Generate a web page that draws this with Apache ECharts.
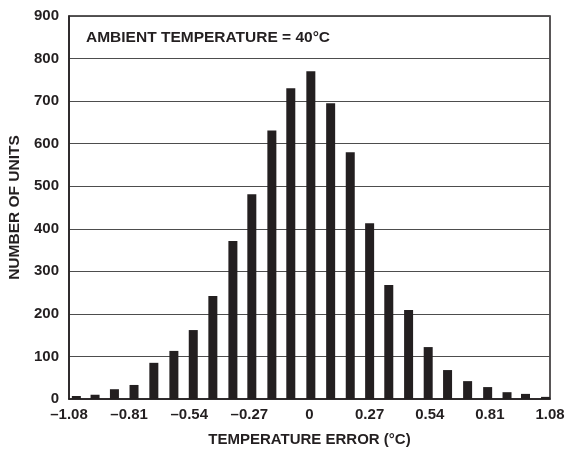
<!DOCTYPE html>
<html>
<head>
<meta charset="utf-8">
<script src="https://cdn.jsdelivr.net/npm/echarts@6/dist/echarts.min.js"></script>
<style>
html,body{margin:0;padding:0;background:#fff;}
#c{width:570px;height:449px;}
</style>
</head>
<body>
<div id="c"></div>
<script>
// Bin centres (°C)
var binCenters = [-1.047, -0.963, -0.876, -0.788, -0.699, -0.609, -0.522, -0.434, -0.344, -0.259, -0.169, -0.084, 0.006,
                  0.095, 0.183, 0.270, 0.356, 0.445, 0.533, 0.620, 0.710, 0.800, 0.887, 0.970, 1.060];
// Number of units per bin
var units = [7, 10, 23, 33, 85, 113, 162, 242, 371, 481, 631, 730, 770,
             695, 580, 413, 268, 209, 122, 68, 42, 28, 16, 12, 5];
var xTicks = [-1.08, -0.81, -0.54, -0.27, 0, 0.27, 0.54, 0.81, 1.08];
var titleText = 'AMBIENT TEMPERATURE = 40°C';
var xName = 'TEMPERATURE ERROR (°C)';
var yName = 'NUMBER OF UNITS';

var chart = echarts.init(document.getElementById('c'), null, {renderer: 'canvas'});
var font = 'Liberation Sans, Arial, Helvetica, sans-serif';
var data = binCenters.map(function (x, i) { return [x, units[i]]; });

chart.setOption({
  backgroundColor: '#fff',
  animation: false,
  textStyle: {fontFamily: font},
  grid: {left: 69, right: 20, top: 16, bottom: 50, containLabel: false, outerBoundsMode: 'none',
         show: true, borderColor: '#231f20', borderWidth: 1.5, backgroundColor: 'transparent'},
  graphic: [{
    type: 'text', left: 86, top: 30,
    style: {text: titleText, fill: '#231f20', font: 'bold 15.5px ' + font}
  }],
  xAxis: {
    type: 'value', min: -1.08, max: 1.08, interval: 0.27,
    name: xName, nameLocation: 'middle', nameGap: 33,
    nameTextStyle: {color: '#231f20', fontWeight: 'bold', fontSize: 15, fontFamily: font},
    axisLine: {show: true, onZero: false, lineStyle: {color: '#231f20', width: 1.5}},
    axisTick: {show: false},
    splitLine: {show: false},
    axisLabel: {
      color: '#231f20', fontWeight: 'bold', fontSize: 15, margin: 8, fontFamily: font,
      customValues: xTicks,
      formatter: function (v) {
        var r = Math.round(v * 100) / 100;
        if (r === 0) return '0';
        var s = Math.abs(r).toFixed(2);
        return (r < 0 ? '\u2013' : '') + s;
      }
    }
  },
  yAxis: {
    type: 'value', min: 0, max: 900, interval: 100,
    name: yName, nameLocation: 'middle', nameGap: 43, nameRotate: 90,
    nameTextStyle: {color: '#231f20', fontWeight: 'bold', fontSize: 15.5, fontFamily: font},
    axisLine: {show: true, onZero: false, lineStyle: {color: '#231f20', width: 1.5}},
    axisTick: {show: false},
    splitLine: {show: true, lineStyle: {color: '#4d4d4d', width: 1}},
    axisLabel: {color: '#231f20', fontWeight: 'bold', fontSize: 15, margin: 10, fontFamily: font}
  },
  series: [{
    type: 'bar',
    data: data,
    barWidth: 9,
    itemStyle: {color: '#231f20'},
    z: 3
  }]
});
</script>
</body>
</html>
